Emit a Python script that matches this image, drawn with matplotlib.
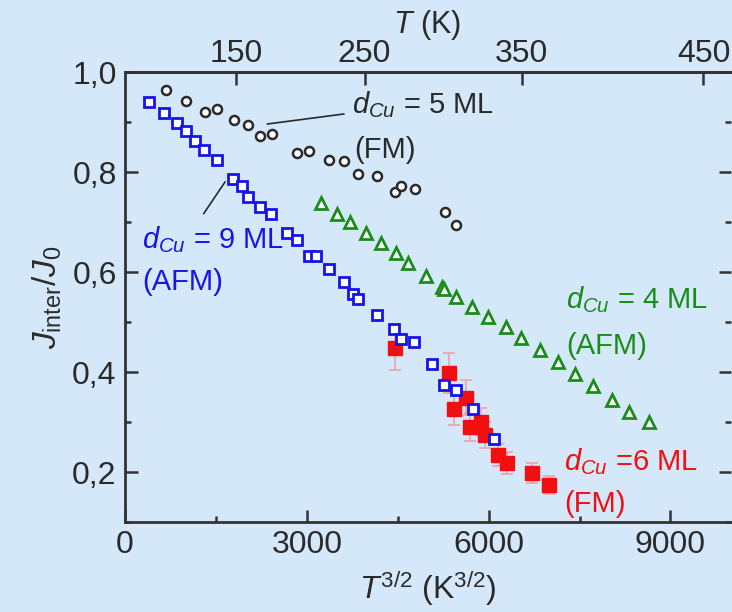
import numpy as np
import matplotlib
matplotlib.use("Agg")
from matplotlib import pyplot as plt
from matplotlib.ticker import MultipleLocator, FixedLocator

plt.rcParams['font.family'] = ['Liberation Sans', 'DejaVu Sans']
plt.rcParams['mathtext.fontset'] = 'custom'
plt.rcParams['mathtext.rm'] = 'Liberation Sans'
plt.rcParams['mathtext.it'] = 'Liberation Sans:italic'

# d_Cu = 5 ML (FM), open circles
x5 = [676, 1005, 1318, 1511, 1796, 2033, 2225, 2433, 2846, 3040, 3367, 3614,
      3845, 4158, 4450, 4560, 4779, 5274, 5467]
y5 = [0.965, 0.943, 0.920, 0.927, 0.905, 0.895, 0.873, 0.877, 0.839, 0.842,
      0.824, 0.823, 0.797, 0.793, 0.760, 0.773, 0.766, 0.721, 0.695]

# d_Cu = 9 ML (AFM), open blue squares
x9 = [401, 643, 851, 1005, 1154, 1307, 1511, 1786, 1934, 2033, 2225, 2417,
      2675, 2846, 3040, 3159, 3362, 3609, 3763, 3845, 4158, 4438, 4549, 4768,
      5060, 5263, 5455, 5741, 6087]
y9 = [0.941, 0.919, 0.899, 0.883, 0.863, 0.845, 0.825, 0.787, 0.772, 0.751,
      0.731, 0.717, 0.679, 0.664, 0.633, 0.633, 0.607, 0.581, 0.557, 0.547,
      0.514, 0.487, 0.467, 0.461, 0.416, 0.374, 0.365, 0.327, 0.266]

# d_Cu = 4 ML (AFM), open green triangles
x4 = [3230, 3499, 3719, 3982, 4219, 4466, 4669, 4960, 5235, 5257, 5466, 5730,
      5988, 6279, 6537, 6856, 7141, 7433, 7718, 8037, 8311, 8652]
y4 = [0.739, 0.717, 0.701, 0.679, 0.659, 0.639, 0.619, 0.592, 0.571, 0.566,
      0.551, 0.531, 0.511, 0.491, 0.469, 0.444, 0.421, 0.397, 0.372, 0.345,
      0.321, 0.301]

# d_Cu = 6 ML (FM), filled red squares with error bars
x6 = [4450, 5345, 5428, 5620, 5697, 5878, 5933, 6153, 6301, 6719, 7004]
y6 = [0.449, 0.399, 0.327, 0.349, 0.291, 0.301, 0.274, 0.234, 0.219, 0.199, 0.174]
e6 = [0.045, 0.040, 0.032, 0.035, 0.028, 0.027, 0.026, 0.022, 0.022, 0.020, 0.018]

yticks = [0.2, 0.4, 0.6, 0.8, 1.0]
ylabels = ['0,2', '0,4', '0,6', '0,8', '1,0']
xticks = [0, 3000, 6000, 9000]
tticks = [150, 250, 350, 450]

bg = '#d4e8fa'
ink = '#2a2a2a'
fig = plt.figure(figsize=(7.32, 6.12), dpi=100, facecolor=bg)
ax = fig.add_axes([125 / 732, 1 - 522 / 612, 606 / 732, 450 / 612], facecolor=bg)

ax.errorbar(x6, y6, yerr=e6, fmt='s', color='#f01010', ms=9.5, mec='#f01010',
            ecolor='#f0a0a8', elinewidth=1.2, capsize=4, capthick=1.2, zorder=2)
ax.plot(x9, y9, 's', ms=6.5, mfc='white', mec='#1515e8', mew=2, zorder=3)
ax.plot(x5, y5, 'o', ms=6.5, mfc='white', mec=ink, mew=1.8, zorder=3)
ax.plot(x4, y4, '^', ms=8, mfc='white', mec='#1a8c1a', mew=2, zorder=3)

ax.set_xlim(0, 10000)
ax.set_ylim(0.1, 1.0)
ax.set_xticks(xticks)
ax.set_xticklabels([str(v) for v in xticks])
ax.xaxis.set_minor_locator(MultipleLocator(1500))
ax.set_yticks(yticks)
ax.set_yticklabels(ylabels)
ax.yaxis.set_minor_locator(MultipleLocator(0.1))
ax.tick_params(which='both', direction='in', width=1.8, labelsize=23,
               labelcolor=ink, color='#333333', right=True, top=False, pad=6)
ax.tick_params(which='major', length=9)
ax.tick_params(which='minor', length=4)
for side in ['left', 'bottom', 'top']:
    ax.spines[side].set_linewidth(2)
    ax.spines[side].set_color('#333333')
ax.spines['right'].set_visible(False)

top = ax.secondary_xaxis('top', functions=(lambda x: np.sign(x) * np.abs(x) ** (2 / 3),
                                           lambda t: np.sign(t) * np.abs(t) ** 1.5))
top.xaxis.set_major_locator(FixedLocator(tticks))
top.tick_params(direction='in', length=9, width=1.8, labelsize=23,
                labelcolor=ink, color='#333333', pad=2)
top.spines['top'].set_linewidth(2)
top.spines['top'].set_color('#333333')
fig.text(427 / 732, 1 - 25 / 612, r'$T$ (K)', fontsize=22, color=ink,
         ha='center', va='center')

ax.set_xlabel(r'$T^{3/2}$ (K$^{3/2}$)', fontsize=23, color=ink, labelpad=6)
ax.set_ylabel(r'$J_{\mathrm{inter}}/J_0$', fontsize=24, color=ink, labelpad=6)

fs = 21
ax.text(3740, 0.935, r'$d_{Cu}$ = 5 ML', fontsize=fs, color=ink, va='center')
ax.text(3790, 0.845, '(FM)', fontsize=fs, color=ink, va='center')
ax.plot([2350, 3610], [0.896, 0.916], color=ink, lw=1.2)

ax.text(280, 0.664, r'$d_{Cu}$ = 9 ML', fontsize=fs, color='#1515e8', va='center')
ax.text(280, 0.580, '(AFM)', fontsize=fs, color='#1515e8', va='center')
ax.plot([1300, 1650], [0.717, 0.780], color=ink, lw=1.2)

ax.text(7280, 0.545, r'$d_{Cu}$ = 4 ML', fontsize=fs, color='#1a8c1a', va='center')
ax.text(7280, 0.452, '(AFM)', fontsize=fs, color='#1a8c1a', va='center')

ax.text(7250, 0.220, r'$d_{Cu}$ =6 ML', fontsize=fs, color='#f01010', va='center')
ax.text(7250, 0.136, '(FM)', fontsize=fs, color='#f01010', va='center')

fig.savefig('out.png', dpi=100, facecolor=bg)
